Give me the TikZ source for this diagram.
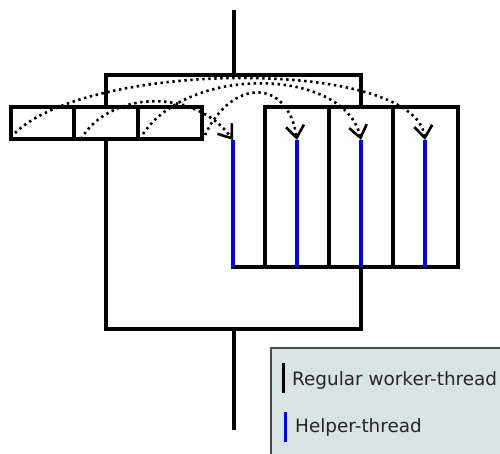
\documentclass[tikz,border=0pt]{standalone}
\usepackage{fontspec}
\setmainfont{DejaVu Sans}
\usetikzlibrary{arrows.meta}
\definecolor{legendfill}{HTML}{D8E3E3}
\definecolor{legendedge}{HTML}{4A4A4A}
\definecolor{helperblue}{HTML}{0000FF}
\tikzset{
  frame/.style={line width=3.2pt, line cap=rect},
  worker/.style={line width=3.2pt, black},
  helper/.style={line width=3.2pt, helperblue},
  handoff/.style={line width=2.6pt, dash pattern=on 2.4pt off 3.6pt,
    -{Straight Barb[length=12pt,width=18pt,line width=2.6pt]}},
  legendtext/.style={font=\fontsize{18.4}{21}\selectfont, text=black!85, anchor=base west, inner sep=0pt}
}
\begin{document}
\begin{tikzpicture}[x=1pt,y=-1pt]
\useasboundingbox (0,0) rectangle (500,454);

% main thread line and the fork/join frame
\coordinate (top) at (234,12);
\coordinate (fork) at (234,75);
\coordinate (join) at (234,329);
\coordinate (bottom) at (234,428);
\draw[frame] (fork) -- (top);
\draw[frame] (join) -- (bottom);
\draw[frame] (106,75) rectangle (361,329);

% task queue (three cells)
\coordinate (q0) at (11,107);
\coordinate (q3) at (202,139);
\fill[white] (q0) rectangle (q3);
\draw[frame] (q0) rectangle (q3);
\foreach \x/\n in {74/d1,138/d2}
  \draw[frame, line cap=butt] (\x,107) coordinate (\n) -- (\x,139);

% thread lanes
\fill[white] (232,106) rectangle (459,268);
\draw[worker, line cap=rect] (265,107) -- (458,107);
\draw[worker, line cap=rect] (233,267) -- (458,267);
\foreach \x/\n in {265/w1,329/w2,393/w3,458/w4}
  \draw[worker] (\x,107) coordinate (\n) -- (\x,267);
\foreach \x/\n in {233/h1,297/h2,361/h3,425/h4}
  \draw[helper] (\x,140) coordinate (\n) -- (\x,267);

% tasks handed to the helper threads
\coordinate (s1) at (15,133);
\coordinate (s2) at (81,139);
\coordinate (s3) at (143,134);
\coordinate (s4) at (205,135);
\draw[handoff] (s1) .. controls (90,60) and (415,58) .. (h4);
\draw[handoff] (s2) .. controls (110,90) and (195,88) .. (h1);
\draw[handoff] (s3) .. controls (190,64) and (345,68) .. (h3);
\draw[handoff] (s4) .. controls (232,78) and (288,78) .. (h2);

% legend
\draw[fill=legendfill, draw=legendedge, line width=1.8pt] (271,348) rectangle (503,458);
\draw[line width=3pt, black] (283,363) coordinate (lk1) -- (283,393);
\draw[line width=3pt, helperblue] (285,412) coordinate (lk2) -- (285,442);
\node[legendtext] (lt1) at (292,385) {Regular worker-thread};
\node[legendtext] (lt2) at (295,432) {Helper-thread};
\end{tikzpicture}
\end{document}
